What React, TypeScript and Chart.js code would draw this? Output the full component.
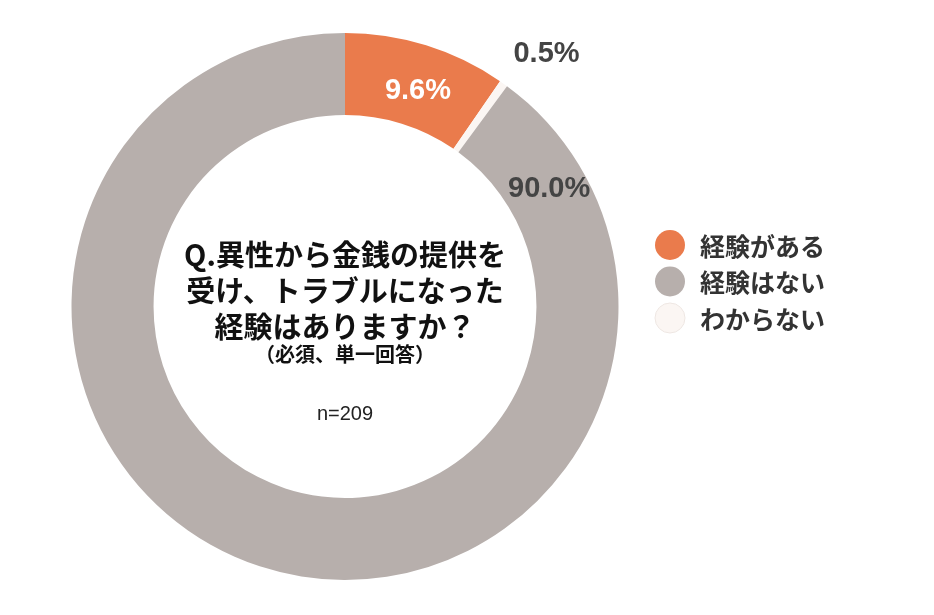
import React, { useEffect, useRef } from "react";
import { Chart, registerables } from "chart.js";

Chart.register(...registerables);

const categories = ["経験がある", "経験はない", "わからない"];
const values = [9.6, 90.0, 0.5];
const valueLabels = ["9.6%", "90.0%", "0.5%"];
const colors = ["#EA7B4C", "#B7AFAC", "#FBF6F3"];
// drawing order of slices clockwise from 12 o'clock
const sliceOrder = [0, 2, 1];
const titleLines = ["Q.異性から金銭の提供を", "受け、トラブルになった", "経験はありますか？"];
const subTitle = "（必須、単一回答）";
const sampleText = "n=209";

const JP = '"Noto Sans CJK JP", sans-serif';
const NUM = '"Liberation Sans", Arial, sans-serif';

const overlayPlugin = {
  id: "overlay",
  afterDraw(chart: any) {
    const ctx = chart.ctx as CanvasRenderingContext2D;
    const meta = chart.getDatasetMeta(0);
    const cx = meta.data[0].x;
    const cy = meta.data[0].y;
    ctx.save();
    ctx.textAlign = "center";
    ctx.textBaseline = "middle";

    // center text
    ctx.fillStyle = "#111";
    ctx.font = `bold 29px ${JP}`;
    titleLines.forEach((t, i) => ctx.fillText(t, cx, cy - 52 + i * 36));
    ctx.font = `bold 20px ${JP}`;
    ctx.fillText(subTitle, cx, cy + 48);
    ctx.font = `20px ${NUM}`;
    ctx.fillStyle = "#222";
    ctx.fillText(sampleText, cx, cy + 108);

    ctx.font = `bold 29px ${NUM}`;
    // experienced: inside the arc
    const a = meta.data[0];
    const midA = (a.startAngle + a.endAngle) / 2;
    const rA = (a.innerRadius + a.outerRadius) / 2;
    ctx.fillStyle = "#fff";
    ctx.fillText(valueLabels[0], cx + Math.cos(midA) * rA + 4, cy + Math.sin(midA) * rA + 7);
    // unknown: outside
    const b = meta.data[1];
    const midB = (b.startAngle + b.endAngle) / 2;
    const rB = b.outerRadius + 50;
    ctx.fillStyle = "#444";
    ctx.fillText(valueLabels[2], cx + Math.cos(midB) * rB + 14, cy + Math.sin(midB) * rB + 11);
    // not experienced: near start of its arc
    const c = meta.data[2];
    const angC = c.startAngle + 0.415;
    const rC = c.outerRadius - 38;
    ctx.fillText(valueLabels[1], cx + Math.cos(angC) * rC, cy + Math.sin(angC) * rC);

    // legend
    const lx = 670;
    const ly = 245;
    categories.forEach((name, i) => {
      const y = ly + i * 36.5;
      ctx.beginPath();
      ctx.arc(lx, y, 15, 0, Math.PI * 2);
      ctx.fillStyle = colors[i];
      ctx.fill();
      if (i === 2) {
        ctx.strokeStyle = "#EEE7E3";
        ctx.lineWidth = 1;
        ctx.stroke();
      }
      ctx.fillStyle = "#333";
      ctx.textAlign = "left";
      ctx.font = `bold 25px ${JP}`;
      ctx.fillText(name, 700, y + 1);
    });
    ctx.restore();
  },
};

export default function App() {
  const ref = useRef<HTMLCanvasElement>(null);
  useEffect(() => {
    let chart: Chart | null = null;
    let cancelled = false;
    const make = () => {
      if (cancelled || !ref.current) return;
      chart = new Chart(ref.current, {
        type: "doughnut",
        data: {
          labels: sliceOrder.map((i) => categories[i]),
          datasets: [
            {
              data: sliceOrder.map((i) => values[i]),
              backgroundColor: sliceOrder.map((i) => colors[i]),
              borderWidth: 0,
            },
          ],
        },
        options: {
          responsive: false,
          animation: false,
          cutout: "70%",
          layout: { padding: { left: 71.5, right: 315.5, top: 33, bottom: 35 } },
          plugins: { legend: { display: false }, tooltip: { enabled: false } },
        },
        plugins: [overlayPlugin],
      });
    };
    Promise.all([
      document.fonts.load(`bold 29px "Noto Sans CJK JP"`, "経験"),
      document.fonts.load(`bold 29px "Liberation Sans"`, "9.6%"),
      document.fonts.load(`20px "Liberation Sans"`, "n=209"),
    ])
      .catch(() => {})
      .then(make);
    return () => {
      cancelled = true;
      if (chart) chart.destroy();
    };
  }, []);
  return (
    <div style={{ position: "absolute", left: 0, top: 0, width: 934, height: 615, background: "#fff" }}>
      <canvas ref={ref} width={934} height={615} />
    </div>
  );
}
